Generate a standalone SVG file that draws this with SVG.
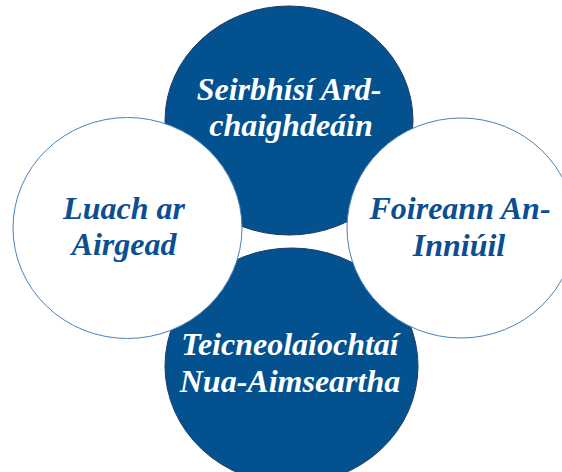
<svg xmlns="http://www.w3.org/2000/svg" width="562" height="472" viewBox="0 0 562 472">
<style>
.blue{fill:#03518f;stroke:#1d3c68;stroke-width:1}
.white{fill:#ffffff;stroke:#4a80b8;stroke-width:1}
text{font-family:"Liberation Serif","Times New Roman",serif;font-weight:bold;font-style:italic;font-size:32px;text-anchor:middle}
.tw{fill:#ffffff}
.tb{fill:#0b4f92}
</style>
<rect width="562" height="472" fill="#ffffff"/>
<g id="node-top">
<ellipse class="blue" cx="289" cy="120.5" rx="124" ry="114.5"/>
<text class="tw" x="289" y="100">Seirbhísí Ard-</text>
<text class="tw" x="291" y="136">chaighdeáin</text>
</g>
<g id="node-bottom">
<ellipse class="blue" cx="291.5" cy="366" rx="126.5" ry="118"/>
<text class="tw" x="290" y="355">Teicneolaíochtaí</text>
<text class="tw" x="290" y="392">Nua-Aimseartha</text>
</g>
<g id="node-left">
<ellipse class="white" cx="127.5" cy="228" rx="114.5" ry="110.5"/>
<text class="tb" x="124" y="219">Luach ar</text>
<text class="tb" x="124" y="255">Airgead</text>
</g>
<g id="node-right">
<ellipse class="white" cx="461" cy="228" rx="114" ry="110"/>
<text class="tb" x="460" y="219">Foireann An-</text>
<text class="tb" x="459" y="256">Inniúil</text>
</g>
<g id="connectors"></g>
</svg>
